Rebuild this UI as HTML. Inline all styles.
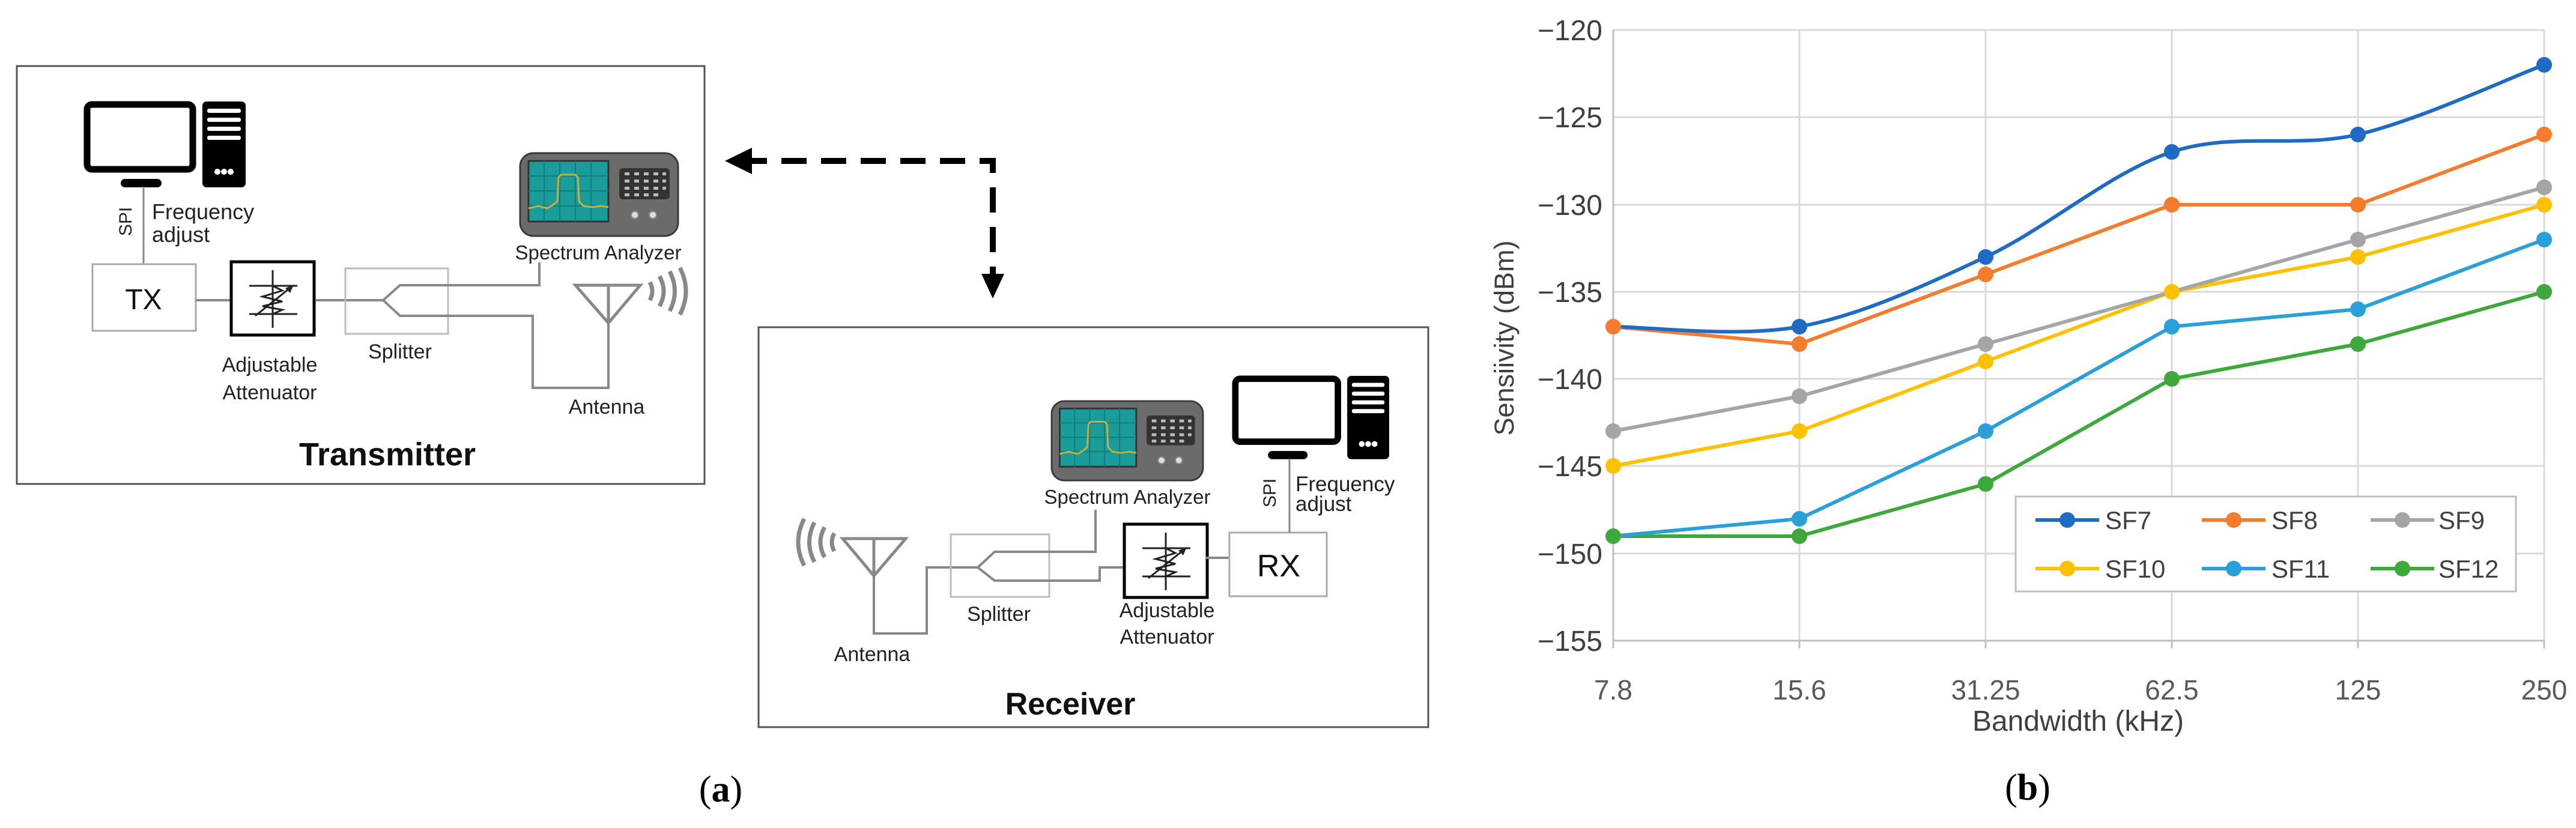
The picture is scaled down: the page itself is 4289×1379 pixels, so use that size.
<!DOCTYPE html>
<html><head><meta charset="utf-8"><style>
html,body{margin:0;padding:0;background:#fff;}
svg{display:block;}
text{font-family:"Liberation Sans",sans-serif;}
</style></head><body>
<svg width="4289" height="1379" viewBox="0 0 4289 1379" xmlns="http://www.w3.org/2000/svg">
<defs>
<g id="sa">
 <rect x="0" y="0" width="263" height="138" rx="22" fill="#6b6b6b" stroke="#3a3a3a" stroke-width="3"/>
 <rect x="14" y="13" width="133" height="101" fill="#1a9c9a" stroke="#333" stroke-width="3"/>
 <g stroke="#147c7a" stroke-width="2">
  <line x1="14" y1="38" x2="147" y2="38"/><line x1="14" y1="63" x2="147" y2="63"/><line x1="14" y1="88" x2="147" y2="88"/>
  <line x1="40" y1="13" x2="40" y2="114"/><line x1="66" y1="13" x2="66" y2="114"/><line x1="92" y1="13" x2="92" y2="114"/><line x1="118" y1="13" x2="118" y2="114"/>
 </g>
 <path d="M14 92 L30 88 L45 92 L55 86 L62 80 L64 40 L68 36 L92 36 L96 40 L98 80 L105 88 L120 90 L135 88 L147 90" fill="none" stroke="#c8b040" stroke-width="3"/>
 <rect x="165" y="25" width="84" height="52" rx="6" fill="#333"/>
 <g fill="#bbb">
  <rect x="174" y="32" width="8" height="5"/><rect x="190" y="32" width="8" height="5"/><rect x="206" y="32" width="8" height="5"/><rect x="222" y="32" width="8" height="5"/><rect x="237" y="32" width="6" height="5"/>
  <rect x="174" y="44" width="8" height="5"/><rect x="190" y="44" width="8" height="5"/><rect x="206" y="44" width="8" height="5"/><rect x="222" y="44" width="8" height="5"/><rect x="237" y="44" width="6" height="5"/>
  <rect x="174" y="56" width="8" height="5"/><rect x="190" y="56" width="8" height="5"/><rect x="206" y="56" width="8" height="5"/><rect x="222" y="56" width="8" height="5"/><rect x="237" y="56" width="6" height="5"/>
  <rect x="174" y="67" width="8" height="5"/><rect x="190" y="67" width="8" height="5"/><rect x="206" y="67" width="8" height="5"/><rect x="222" y="67" width="8" height="5"/>
 </g>
 <circle cx="191" cy="103" r="6" fill="#ddd" stroke="#888" stroke-width="2"/>
 <circle cx="221" cy="103" r="6" fill="#ddd" stroke="#888" stroke-width="2"/>
</g>
<g id="pc">
 <rect x="5" y="5" width="176" height="108" rx="8" fill="#fff" stroke="#000" stroke-width="11"/>
 <rect x="61" y="129" width="68" height="14" rx="7" fill="#000"/>
 <rect x="197" y="0" width="72" height="143" rx="7" fill="#000"/>
 <g fill="#fff"><rect x="205" y="12" width="56" height="7" rx="3"/><rect x="205" y="27" width="56" height="7" rx="3"/><rect x="205" y="42" width="56" height="7" rx="3"/><rect x="205" y="57" width="56" height="7" rx="3"/>
 <circle cx="222" cy="117" r="5"/><circle cx="233" cy="117" r="5"/><circle cx="244" cy="117" r="5"/></g>
</g>
<g id="att">
 <rect x="0" y="0" width="138" height="122" fill="#fff" stroke="#000" stroke-width="5"/>
 <g stroke="#222" stroke-width="3" fill="none">
  <line x1="69" y1="14" x2="69" y2="110"/>
  <line x1="30" y1="40" x2="110" y2="40"/>
  <line x1="30" y1="87" x2="110" y2="87"/>
  <path d="M69 40 L85 48 L52 58 L85 66 L52 74 L85 80 L69 87"/>
  <line x1="40" y1="90" x2="100" y2="42"/>
 </g>
 <polygon points="104,38 90,44 98,52" fill="#222"/>
</g>
</defs>

<!-- ================= TRANSMITTER ================= -->
<rect x="28" y="110" width="1145" height="696" fill="#fff" stroke="#555" stroke-width="3"/>
<use href="#pc" x="140" y="169"/>
<line x1="239" y1="311" x2="239" y2="440" stroke="#888" stroke-width="3"/>
<text x="0" y="0" font-size="30" fill="#222" transform="translate(219,369) rotate(-90)" text-anchor="middle">SPI</text>
<text x="253" y="365" font-size="36" fill="#222">Frequency</text>
<text x="253" y="403" font-size="36" fill="#222">adjust</text>
<rect x="154" y="440" width="172" height="111" fill="#fff" stroke="#aaa" stroke-width="3"/>
<text x="239" y="515" font-size="48" fill="#111" text-anchor="middle">TX</text>
<line x1="326" y1="500" x2="384" y2="500" stroke="#888" stroke-width="4"/>
<use href="#att" x="385" y="436"/>
<line x1="525" y1="500" x2="638" y2="500" stroke="#888" stroke-width="4"/>
<rect x="575" y="447" width="171" height="109" fill="none" stroke="#bbb" stroke-width="3"/>
<path d="M638 500 L666 475 L898 475 L898 437" fill="none" stroke="#888" stroke-width="4"/>
<path d="M638 500 L666 526 L887 526 L887 646 L1013 646 L1013 538" fill="none" stroke="#888" stroke-width="4"/>
<path d="M958 475 L1066 475 L1013 538 Z M1013 475 L1013 538" fill="none" stroke="#888" stroke-width="5"/>
<g fill="none" stroke="#888" stroke-width="7">
 <path d="M1082 470 Q1090 485 1082 500"/>
 <path d="M1098 460 Q1112 485 1098 510"/>
 <path d="M1115 452 Q1132 485 1115 518"/>
 <path d="M1132 446 Q1152 485 1132 524"/>
</g>
<use href="#sa" x="866" y="255"/>
<text x="996" y="432" font-size="33" fill="#222" text-anchor="middle">Spectrum Analyzer</text>
<text x="449" y="619" font-size="34" fill="#222" text-anchor="middle">Adjustable</text>
<text x="449" y="665" font-size="34" fill="#222" text-anchor="middle">Attenuator</text>
<text x="666" y="597" font-size="34" fill="#222" text-anchor="middle">Splitter</text>
<text x="1010" y="689" font-size="34" fill="#222" text-anchor="middle">Antenna</text>
<text x="645" y="775" font-size="54" font-weight="bold" fill="#111" text-anchor="middle">Transmitter</text>

<!-- dashed arrow -->
<path d="M1235 268 L1653 268 L1653 465" fill="none" stroke="#000" stroke-width="10" stroke-dasharray="42 24"/>
<polygon points="1207,268 1252,246 1252,290" fill="#000"/>
<polygon points="1653,497 1634,456 1672,456" fill="#000"/>

<!-- ================= RECEIVER ================= -->
<rect x="1263" y="545" width="1115" height="666" fill="#fff" stroke="#555" stroke-width="3"/>
<g fill="none" stroke="#888" stroke-width="7">
 <path d="M1389 888 Q1381 903 1389 918"/>
 <path d="M1373 878 Q1359 903 1373 928"/>
 <path d="M1356 870 Q1339 903 1356 936"/>
 <path d="M1339 864 Q1319 903 1339 942"/>
</g>
<path d="M1403 897 L1508 897 L1455 959 Z M1455 897 L1455 959" fill="none" stroke="#888" stroke-width="5"/>
<path d="M1455 959 L1455 1055 L1543 1055 L1543 945 L1628 945" fill="none" stroke="#888" stroke-width="4"/>
<rect x="1583" y="890" width="164" height="104" fill="none" stroke="#bbb" stroke-width="3"/>
<path d="M1628 945 L1656 919 L1824 919 L1824 849" fill="none" stroke="#888" stroke-width="4"/>
<path d="M1628 945 L1656 967 L1831 967 L1831 945 L1873 945" fill="none" stroke="#888" stroke-width="4"/>
<use href="#att" x="1872" y="873"/>
<line x1="2008" y1="929" x2="2047" y2="929" stroke="#888" stroke-width="4"/>
<rect x="2047" y="887" width="162" height="106" fill="#fff" stroke="#aaa" stroke-width="3"/>
<text x="2129" y="960" font-size="52" fill="#111" text-anchor="middle">RX</text>
<use href="#sa" x="1751" y="668" transform="translate(1751,668) scale(0.958) translate(-1751,-668)"/>
<text x="1877" y="839" font-size="33" fill="#222" text-anchor="middle">Spectrum Analyzer</text>
<g transform="translate(2052,626) scale(0.97)"><use href="#pc" x="0" y="0"/></g>
<line x1="2147" y1="764" x2="2147" y2="887" stroke="#888" stroke-width="3"/>
<text x="0" y="0" font-size="30" fill="#222" transform="translate(2124,821) rotate(-90)" text-anchor="middle">SPI</text>
<text x="2157" y="818" font-size="35" fill="#222">Frequency</text>
<text x="2157" y="851" font-size="35" fill="#222">adjust</text>
<text x="1663" y="1034" font-size="34" fill="#222" text-anchor="middle">Splitter</text>
<text x="1452" y="1101" font-size="34" fill="#222" text-anchor="middle">Antenna</text>
<text x="1943" y="1028" font-size="34" fill="#222" text-anchor="middle">Adjustable</text>
<text x="1943" y="1072" font-size="34" fill="#222" text-anchor="middle">Attenuator</text>
<text x="1782" y="1190" font-size="52" font-weight="bold" fill="#111" text-anchor="middle">Receiver</text>

<text x="1200" y="1335" font-size="62" fill="#000" text-anchor="middle" style="font-family:'Liberation Serif',serif">(<tspan font-weight="bold">a</tspan>)</text>

<!-- ================= CHART ================= -->
<g stroke="#d9d9d9" stroke-width="3">
 <line x1="2686" y1="50" x2="4236" y2="50"/>
 <line x1="2686" y1="195" x2="4236" y2="195"/>
 <line x1="2686" y1="341" x2="4236" y2="341"/>
 <line x1="2686" y1="486" x2="4236" y2="486"/>
 <line x1="2686" y1="631" x2="4236" y2="631"/>
 <line x1="2686" y1="776" x2="4236" y2="776"/>
 <line x1="2686" y1="922" x2="4236" y2="922"/>
 <line x1="2996" y1="50" x2="2996" y2="1067"/>
 <line x1="3306" y1="50" x2="3306" y2="1067"/>
 <line x1="3616" y1="50" x2="3616" y2="1067"/>
 <line x1="3926" y1="50" x2="3926" y2="1067"/>
 <line x1="4236" y1="50" x2="4236" y2="1067"/>
</g>
<g stroke="#bfbfbf" stroke-width="3">
 <line x1="2686" y1="50" x2="2686" y2="1080"/>
 <line x1="2686" y1="1067" x2="4236" y2="1067"/>
 <line x1="2996" y1="1067" x2="2996" y2="1080"/>
 <line x1="3306" y1="1067" x2="3306" y2="1080"/>
 <line x1="3616" y1="1067" x2="3616" y2="1080"/>
 <line x1="3926" y1="1067" x2="3926" y2="1080"/>
 <line x1="4236" y1="1067" x2="4236" y2="1080"/>
</g>
<g font-size="48" fill="#404040" text-anchor="end">
 <text x="2668" y="67">−120</text>
 <text x="2668" y="212">−125</text>
 <text x="2668" y="358">−130</text>
 <text x="2668" y="503">−135</text>
 <text x="2668" y="648">−140</text>
 <text x="2668" y="793">−145</text>
 <text x="2668" y="939">−150</text>
 <text x="2668" y="1084">−155</text>
</g>
<g font-size="46" fill="#595959" text-anchor="middle">
 <text x="2686" y="1165">7.8</text>
 <text x="2996" y="1165">15.6</text>
 <text x="3306" y="1165">31.25</text>
 <text x="3616" y="1165">62.5</text>
 <text x="3926" y="1165">125</text>
 <text x="4236" y="1165">250</text>
</g>
<text x="3460" y="1217" font-size="48" fill="#404040" text-anchor="middle">Bandwidth (kHz)</text>
<text x="0" y="0" font-size="45" fill="#404040" text-anchor="middle" transform="translate(2520,563) rotate(-90)">Sensiivity  (dBm)</text>

<g fill="none" stroke-width="6" stroke-linejoin="round">
 <polyline stroke="#3ea83a" points="2686,893 2996,893 3306,806 3616,631 3926,573 4236,486"/>
 <polyline stroke="#2a9fd8" points="2686,893 2996,864 3306,718 3616,544 3926,515 4236,399"/>
 <polyline stroke="#ffc000" points="2686,776 2996,718 3306,602 3616,486 3926,428 4236,341"/>
 <polyline stroke="#a5a5a5" points="2686,718 2996,660 3306,573 3616,486 3926,399 4236,312"/>
 <polyline stroke="#f47c2c" points="2686,544 2996,573 3306,457 3616,341 3926,341 4236,224"/>
 <path stroke="#1f6bc4" d="M2686 544 C2738 544 2893 563 2996 544 C3099 525 3203 476 3306 428 C3409 380 3513 287 3616 253 C3719 219 3823 248 3926 224 C4029 200 4184 127 4236 108"/>
</g>
<g fill="#3ea83a"><circle cx="2686" cy="893" r="13"/><circle cx="2996" cy="893" r="13"/><circle cx="3306" cy="806" r="13"/><circle cx="3616" cy="631" r="13"/><circle cx="3926" cy="573" r="13"/><circle cx="4236" cy="486" r="13"/></g>
<g fill="#2a9fd8"><circle cx="2996" cy="864" r="13"/><circle cx="3306" cy="718" r="13"/><circle cx="3616" cy="544" r="13"/><circle cx="3926" cy="515" r="13"/><circle cx="4236" cy="399" r="13"/></g>
<g fill="#ffc000"><circle cx="2686" cy="776" r="13"/><circle cx="2996" cy="718" r="13"/><circle cx="3306" cy="602" r="13"/><circle cx="3616" cy="486" r="13"/><circle cx="3926" cy="428" r="13"/><circle cx="4236" cy="341" r="13"/></g>
<g fill="#a5a5a5"><circle cx="2686" cy="718" r="13"/><circle cx="2996" cy="660" r="13"/><circle cx="3306" cy="573" r="13"/><circle cx="3926" cy="399" r="13"/><circle cx="4236" cy="312" r="13"/></g>
<g fill="#f47c2c"><circle cx="2686" cy="544" r="13"/><circle cx="2996" cy="573" r="13"/><circle cx="3306" cy="457" r="13"/><circle cx="3616" cy="341" r="13"/><circle cx="3926" cy="341" r="13"/><circle cx="4236" cy="224" r="13"/></g>
<g fill="#1f6bc4"><circle cx="2996" cy="544" r="13"/><circle cx="3306" cy="428" r="13"/><circle cx="3616" cy="253" r="13"/><circle cx="3926" cy="224" r="13"/><circle cx="4236" cy="108" r="13"/></g>

<!-- legend -->
<rect x="3356" y="827" width="833" height="158" fill="#fff" stroke="#bfbfbf" stroke-width="3"/>
<g stroke-width="6">
 <line x1="3389" y1="866" x2="3495" y2="866" stroke="#1f6bc4"/>
 <line x1="3666" y1="866" x2="3772" y2="866" stroke="#f47c2c"/>
 <line x1="3947" y1="866" x2="4053" y2="866" stroke="#a5a5a5"/>
 <line x1="3389" y1="947" x2="3495" y2="947" stroke="#ffc000"/>
 <line x1="3666" y1="947" x2="3772" y2="947" stroke="#2a9fd8"/>
 <line x1="3947" y1="947" x2="4053" y2="947" stroke="#3ea83a"/>
</g>
<circle cx="3442" cy="866" r="13" fill="#1f6bc4"/>
<circle cx="3719" cy="866" r="13" fill="#f47c2c"/>
<circle cx="4000" cy="866" r="13" fill="#a5a5a5"/>
<circle cx="3442" cy="947" r="13" fill="#ffc000"/>
<circle cx="3719" cy="947" r="13" fill="#2a9fd8"/>
<circle cx="4000" cy="947" r="13" fill="#3ea83a"/>
<g font-size="42" fill="#404040">
 <text x="3505" y="881">SF7</text>
 <text x="3782" y="881">SF8</text>
 <text x="4060" y="881">SF9</text>
 <text x="3505" y="962">SF10</text>
 <text x="3782" y="962">SF11</text>
 <text x="4060" y="962">SF12</text>
</g>

<text x="3376" y="1332" font-size="62" fill="#000" text-anchor="middle" style="font-family:'Liberation Serif',serif">(<tspan font-weight="bold">b</tspan>)</text>
</svg>
</body></html>
